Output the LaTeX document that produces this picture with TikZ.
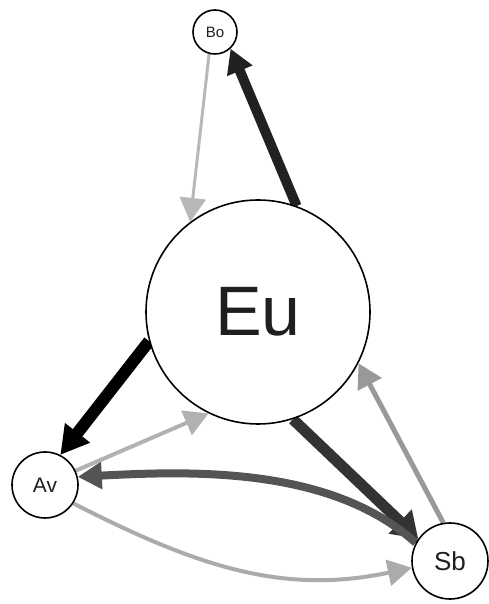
\documentclass[tikz,border=0pt]{standalone}
\usepackage{fontspec}
\setmainfont{Liberation Sans}
\usetikzlibrary{arrows.meta,backgrounds}
\tikzset{
  vtx/.style={circle,draw=black,line width=1.6pt,fill=white,inner sep=0pt,text=black!88},
  edg/.style={-{Triangle[length=24pt,width=26pt]}},
}
\begin{document}
\begin{tikzpicture}[x=1pt,y=1pt]
\useasboundingbox (0,0) rectangle (489,604);
\node[vtx,minimum size=44pt,font=\fontsize{15}{15}\selectfont] (Bo) at (215,572) {Bo};
\node[vtx,minimum size=224pt,font=\fontsize{70}{70}\selectfont] (Eu) at (258,292) {Eu};
\node[vtx,minimum size=66pt,font=\fontsize{21}{21}\selectfont] (Av) at (45,119) {Av};
\node[vtx,minimum size=76pt,font=\fontsize{26}{26}\selectfont] (Sb) at (450,43) {Sb};
\begin{scope}[on background layer]
\draw[edg,draw=black!28,line width=3pt] (Bo.255) -- (Eu.127);
\draw[edg,draw=black!87,line width=10pt] (Eu.70) -- (Bo.313);
\draw[-{Triangle[length=28pt,width=30pt]},draw=black,line width=12pt] (Eu.195) -- (Av.63);
\draw[edg,draw=black!30,line width=4pt] (Av.25) -- (Eu.244);
\draw[-{Triangle[length=25pt,width=32pt]},draw=black!80,line width=11pt] (Eu.288) -- (Sb.145);
\draw[edg,draw=black!40,line width=5pt] (Sb.100) -- (Eu.333);
\draw[edg,draw=black!67,line width=8pt] (Sb.152) to[out=138,in=3,looseness=0.85] (Av.14);
\draw[edg,draw=black!33,line width=4pt] (Av.-33) to[out=-27,in=192] (Sb.190);
\end{scope}
\end{tikzpicture}
\end{document}
